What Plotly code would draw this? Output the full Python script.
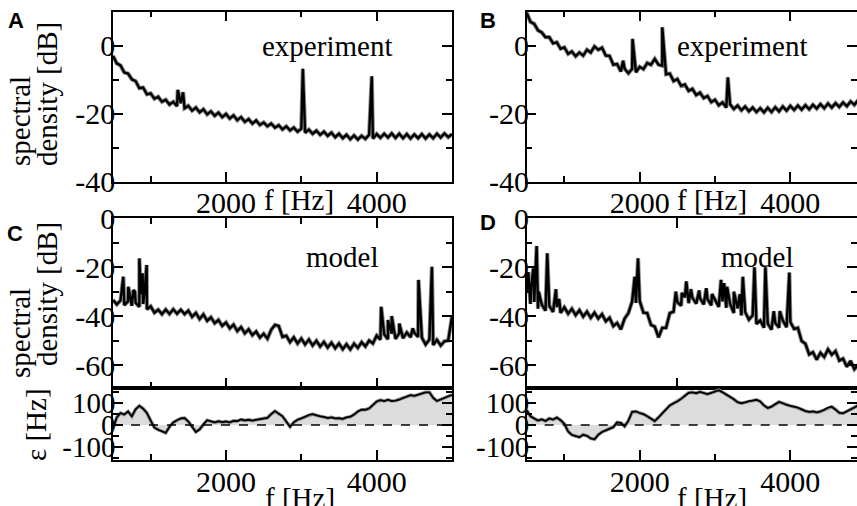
import plotly.graph_objects as go

# ---------------- data ----------------
FREQ = list(range(500, 5001, 50))  # Hz grid, 50 Hz steps

# Panel A: experiment spectrum (dB)
SPEC_A = [
    -3.0, -5.2, -5.8, -7.9, -8.2, -9.9, -10.4, -12.5, -12.3, -14.3,
    -14.0, -15.6, -15.0, -16.5, -15.9, -17.3, -16.5, -17.8, -16.9, -18.4,
    -17.7, -19.1, -18.2, -19.6, -18.7, -20.2, -19.3, -20.6, -19.7, -21.0,
    -20.1, -21.4, -20.5, -21.9, -21.0, -22.4, -21.6, -22.9, -22.0, -23.3,
    -22.6, -23.7, -22.9, -24.1, -23.4, -24.6, -23.7, -24.9, -24.1, -25.3,
    -24.4, -25.6, -24.7, -25.9, -25.0, -26.2, -25.3, -26.5, -25.6, -26.9,
    -25.9, -27.2, -26.2, -27.5, -26.4, -27.6, -26.5, -27.4, -26.2, -27.3,
    -26.0, -27.1, -25.9, -27.0, -25.8, -27.1, -25.9, -27.2, -26.0, -27.3,
    -26.1, -27.2, -26.0, -27.3, -26.1, -27.2, -25.9, -27.0, -25.8, -26.9,
    -26.0,
]
PEAKS_A_F = [1360, 1430, 3020, 3935]
PEAKS_A_DB = [-13.0, -13.7, -6.8, -9.0]

# Panel B: experiment spectrum (dB)
SPEC_B = [
    9.7, 7.0, 6.4, 4.5, 3.9, 2.5, 2.5, 0.7, 1.0, -0.9,
    -0.5, -2.4, -1.7, -3.1, -2.0, -2.9, -1.2, -2.0, -0.2, -1.2,
    -0.6, -2.9, -3.0, -5.6, -5.4, -7.6, -6.8, -8.1, -6.8, -7.8,
    -6.2, -6.9, -5.1, -5.6, -3.9, -5.6, -5.9, -8.4, -8.2, -10.4,
    -9.8, -11.8, -11.4, -13.3, -12.7, -14.5, -13.8, -15.4, -14.8, -16.6,
    -15.9, -17.5, -16.7, -18.2, -17.2, -18.6, -17.6, -19.0, -17.9, -19.3,
    -18.2, -19.5, -18.4, -19.6, -18.3, -19.5, -18.1, -19.3, -17.9, -19.1,
    -17.7, -18.9, -17.6, -18.8, -17.5, -18.7, -17.4, -18.5, -17.2, -18.4,
    -17.0, -18.2, -16.9, -18.0, -16.7, -17.8, -16.4, -17.4, -16.0, -17.0,
    -16.5,
]
PEAKS_B_F = [1780, 1905, 2300, 3170]
PEAKS_B_DB = [-4.4, 2.0, 5.4, -9.3]

# Panel C: model spectrum (dB)
SPEC_C = [
    -33.4, -35.2, -33.6, -35.5, -33.9, -35.8, -34.5, -36.2, -35.0, -37.2,
    -36.0, -38.6, -37.4, -39.2, -37.3, -39.1, -37.2, -39.0, -37.4, -39.2,
    -37.8, -40.3, -38.7, -41.2, -39.3, -41.9, -40.5, -42.9, -41.6, -44.0,
    -42.6, -45.0, -43.5, -46.1, -44.5, -47.0, -45.4, -47.8, -46.3, -48.8,
    -47.2, -49.2, -45.6, -43.6, -44.0, -48.5, -48.0, -50.6, -48.7, -51.2,
    -49.2, -51.6, -49.6, -52.0, -50.1, -52.4, -50.6, -52.8, -50.9, -53.1,
    -51.2, -53.5, -51.5, -53.6, -51.3, -53.0, -50.7, -52.4, -50.0, -51.2,
    -48.0, -49.6, -47.4, -49.5, -47.2, -49.3, -47.0, -49.0, -46.7, -48.6,
    -46.8, -48.5, -48.8, -51.6, -49.6, -51.8, -49.7, -52.0, -50.3, -50.0,
    -40.2,
]
PEAKS_C_F = [637, 703, 770, 790, 850, 870, 893, 920, 947,
             4060, 4150, 4200, 4300, 4480, 4555, 4580, 4733]
PEAKS_C_DB = [-23.9, -28.0, -29.4, -30.0, -16.4, -31.0, -22.5, -30.0, -19.1,
              -36.2, -41.6, -40.0, -43.0, -45.0, -25.2, -39.0, -19.8]

# Panel D: model spectrum (dB)
SPEC_D = [
    -30.5, -35.0, -34.2, -37.0, -35.3, -37.8, -35.8, -38.3, -36.3, -38.7,
    -36.4, -39.0, -37.0, -39.6, -37.6, -40.2, -38.2, -40.7, -38.6, -41.0,
    -39.2, -42.1, -40.7, -44.1, -42.8, -45.4, -41.0, -38.8, -34.0, -34.6,
    -33.8, -38.6, -38.8, -43.6, -44.3, -48.7, -44.8, -44.8, -38.8, -38.2,
    -34.3, -35.7, -32.3, -34.7, -32.4, -34.9, -32.6, -35.2, -33.0, -35.6,
    -33.6, -36.2, -34.0, -36.6, -35.0, -38.7, -36.8, -39.7, -38.3, -41.4,
    -39.7, -43.2, -41.8, -44.7, -43.1, -45.5, -42.8, -44.7, -41.8, -44.5,
    -42.4, -45.2, -44.8, -50.2, -51.3, -55.7, -54.8, -57.8, -55.0, -56.7,
    -53.6, -55.8, -54.3, -58.2, -57.4, -60.7, -58.3, -61.7, -60.0, -62.8,
    -61.5,
]
PEAKS_D_F = [520, 560, 588, 632, 660, 773, 888, 930, 1934, 1978,
             2480, 2560, 2619, 2680, 2790, 2884, 2960, 3080, 3120, 3160,
             3250, 3330, 3369, 3524, 3669, 3780, 3860, 3987]
PEAKS_D_DB = [-22.0, -28.0, -20.5, -11.3, -30.0, -14.3, -29.0, -33.0, -23.9, -16.4,
              -30.0, -30.5, -25.8, -29.0, -29.5, -28.6, -31.0, -25.2, -26.5, -28.0,
              -30.0, -31.0, -23.9, -20.0, -20.0, -38.0, -38.0, -22.2]

# Frequency mismatch epsilon (Hz)
EPS_C = [
    -17, 35, 55, 48, 62, 40, 72, 88, 75, 55,
    20, -12, -22, -30, -36, -8, 12, 22, 30, 32,
    16, -8, -32, -20, 4, 22, 16, 12, 17, 13,
    16, 12, 19, 18, 25, 21, 24, 20, 24, 27,
    29, 33, 50, 64, 52, 40, 16, -8, 12, 24,
    30, 38, 46, 50, 44, 40, 37, 32, 35, 30,
    31, 28, 35, 38, 48, 62, 70, 70, 76, 90,
    108, 114, 110, 116, 110, 112, 116, 124, 130, 137,
    134, 140, 146, 150, 150, 125, 110, 118, 125, 132,
    138,
]
EPS_D = [
    68, 40, 30, 20, 26, 18, 30, 25, 34, 22,
    5, -30, -46, -52, -56, -45, -50, -62, -66, -45,
    -32, -25, -18, -10, 12, 10, -6, 20, 60, 62,
    55, 50, 40, 30, 18, 35, 55, 70, 90, 100,
    108, 120, 135, 148, 150, 146, 152, 148, 142, 148,
    155, 160, 150, 140, 132, 118, 105, 100, 104, 110,
    112, 116, 108, 90, 78, 84, 96, 106, 100, 92,
    88, 84, 80, 72, 64, 60, 62, 58, 62, 70,
    80, 84, 72, 56, 54, 62, 70, 80, 90, 92,
    95,
]

X_TICKS = [2000, 4000]
X_MINOR = [1000, 3000]
Y_TICKS_EXP = [-40, -20, 0]
Y_MINOR_EXP = [-30, -10]
Y_TICKS_MOD = [-60, -40, -20, 0]
Y_MINOR_MOD = [-50, -30, -10]
Y_TICKS_EPS = [-100, 0, 100]
Y_MINOR_EPS = [-150, -50, 50, 150]

# ---------------- figure ----------------
W, H = 857, 506
SERIF = "Liberation Serif"


def merge(f, v, pf, pv):
    pts = sorted(list(zip(f, v)) + list(zip(pf, pv)))
    return [p[0] for p in pts], [p[1] for p in pts]


def px_x(p):
    return p / W


def px_y(p):
    return 1 - p / H


fig = go.Figure()

spectra = [
    (SPEC_A, PEAKS_A_F, PEAKS_A_DB, "x", "y"),
    (SPEC_B, PEAKS_B_F, PEAKS_B_DB, "x2", "y2"),
    (SPEC_C, PEAKS_C_F, PEAKS_C_DB, "x3", "y3"),
    (SPEC_D, PEAKS_D_F, PEAKS_D_DB, "x4", "y4"),
]
for vals, pf, pv, xa, ya in spectra:
    fx, fy = merge(FREQ, vals, pf, pv)
    fig.add_trace(go.Scatter(x=fx, y=fy, mode="lines", xaxis=xa, yaxis=ya,
                             line=dict(color="#8c8c8c", width=4.2), hoverinfo="skip",
                             showlegend=False))
    fig.add_trace(go.Scatter(x=fx, y=fy, mode="lines", xaxis=xa, yaxis=ya,
                             line=dict(color="black", width=2.4), showlegend=False))

for vals, xa, ya in [(EPS_C, "x5", "y5"), (EPS_D, "x6", "y6")]:
    fig.add_trace(go.Scatter(x=FREQ, y=vals, mode="lines", xaxis=xa, yaxis=ya,
                             fill="tozeroy", fillcolor="#dcdcdc",
                             line=dict(color="#8c8c8c", width=3.5), hoverinfo="skip",
                             showlegend=False))
    fig.add_trace(go.Scatter(x=FREQ, y=vals, mode="lines", xaxis=xa, yaxis=ya,
                             line=dict(color="black", width=1.8), showlegend=False))

LX = [px_x(113), px_x(452)]
RX = [px_x(526.7), 1.0]
TOP = [px_y(181.7), px_y(11.7)]
MID = [px_y(388), px_y(218.3)]
BOT = [px_y(460), px_y(388)]

base = dict(showline=True, linecolor="black", linewidth=1.5, ticks="inside",
            tickcolor="black", tickwidth=1.5, ticklen=10, showgrid=False,
            zeroline=False, tickfont=dict(family=SERIF, size=30, color="black"),
            tickmode="array", automargin=False)


def minor(vals):
    return dict(tickmode="array", tickvals=vals, ticks="inside", ticklen=6,
                tickcolor="black", tickwidth=1.5, showgrid=False)


def xax(domain, anchor, rng, labels=True, mirror="ticks", vals=X_TICKS, mvals=X_MINOR):
    d = dict(base)
    d.update(domain=domain, anchor=anchor, range=rng, mirror=mirror,
             tickvals=vals, ticktext=[str(v) for v in vals],
             showticklabels=labels, ticklabelstandoff=-6)
    if mvals:
        d["minor"] = minor(mvals)
    return d


def yax(domain, anchor, rng, vals, mvals, size=30):
    d = dict(base)
    d.update(domain=domain, anchor=anchor, range=rng, mirror="ticks",
             tickvals=vals, ticktext=[str(v) for v in vals], minor=minor(mvals),
             ticklabelstandoff=-10,
             tickfont=dict(family=SERIF, size=size, color="black"))
    return d


XR_L = [500, 5000]
XR_R = [500, 4885]
fig.update_layout(
    xaxis=xax(LX, "y", XR_L),
    yaxis=yax(TOP, "x", [-40, 10], Y_TICKS_EXP, Y_MINOR_EXP),
    xaxis2=xax(RX, "y2", XR_R),
    yaxis2=yax(TOP, "x2", [-40, 10], Y_TICKS_EXP, Y_MINOR_EXP),
    xaxis3=xax(LX, "y3", XR_L, labels=False),
    yaxis3=yax(MID, "x3", [-69.4, 0], Y_TICKS_MOD, Y_MINOR_MOD),
    xaxis4=xax(RX, "y4", XR_R, labels=False, vals=[2500], mvals=None),
    yaxis4=yax(MID, "x4", [-69.4, 0], Y_TICKS_MOD, Y_MINOR_MOD),
    xaxis5=xax(LX, "y5", XR_L, mirror=True),
    yaxis5=yax(BOT, "x5", [-161, 170], Y_TICKS_EPS, Y_MINOR_EPS, size=29),
    xaxis6=xax(RX, "y6", XR_R, mirror=True),
    yaxis6=yax(BOT, "x6", [-161, 170], Y_TICKS_EPS, Y_MINOR_EPS, size=29),
)

# dashed zero lines in epsilon panels
for xa, ya in [("x5", "y5"), ("x6", "y6")]:
    fig.add_shape(type="line", xref=f"{xa} domain", yref=ya, x0=0, x1=1, y0=0, y1=0,
                  line=dict(color="black", width=1.5, dash="dash"), layer="above")

ann = []


def text(s, x, y, size=29, angle=0, xanchor="center", yanchor="middle", family=SERIF,
         bold=False):
    ann.append(dict(text=f"<b>{s}</b>" if bold else s, x=px_x(x), y=px_y(y),
                    xref="paper", yref="paper", showarrow=False, textangle=angle,
                    xanchor=xanchor, yanchor=yanchor,
                    font=dict(family=family, size=size, color="black")))


text("experiment", 327, 46)
text("experiment", 742, 46)
text("model", 342, 257)
text("model", 757, 257)
text("f [Hz]", 299, 200)
text("f [Hz]", 712, 200)
text("f [Hz]", 300, 498)
text("f [Hz]", 712, 498)
text("spectral", 20, 168, angle=-90, yanchor="bottom")
text("density [dB]", 47, 168, angle=-90, yanchor="bottom")
text("spectral", 20, 380, angle=-90, yanchor="bottom")
text("density [dB]", 47, 368, angle=-90, yanchor="bottom")
text("ε [Hz]", 36, 425, angle=-90)
for lab, x, y in [("A", 16, 21), ("B", 487.5, 20.5), ("C", 14.5, 233.5), ("D", 487.5, 222.5)]:
    text(lab, x, y, size=22, family="Liberation Sans", bold=True)

fig.update_layout(width=W, height=H, margin=dict(l=0, r=0, t=0, b=0, autoexpand=False),
                  paper_bgcolor="white", plot_bgcolor="white", annotations=ann,
                  showlegend=False)

fig.write_html("out.html", config={"displayModeBar": False},
               post_script="document.body.style.margin='0px';")
